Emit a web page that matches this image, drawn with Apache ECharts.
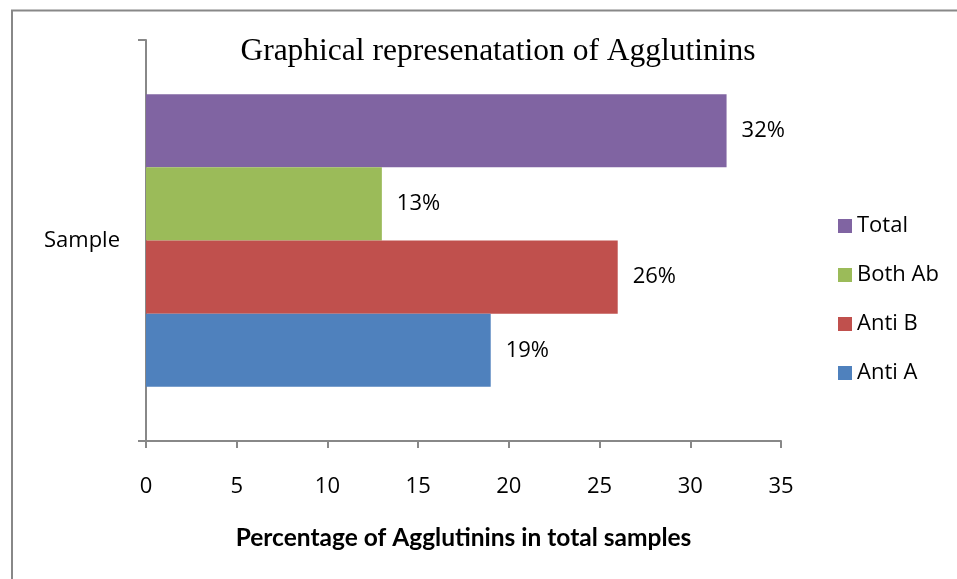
<!DOCTYPE html>
<html><head><meta charset="utf-8">
<script src="https://cdn.jsdelivr.net/npm/echarts@6/dist/echarts.min.js"></script>
<style>html,body{margin:0;padding:0;background:#fff}#c{width:957px;height:579px}</style>
</head><body><div id="c"></div>
<script>
const categories = ['Sample'];
const seriesNames = ['Total', 'Both Ab', 'Anti B', 'Anti A'];
const total = [32];
const bothAb = [13];
const antiB = [26];
const antiA = [19];
const colors = ['#8064A2', '#9BBB59', '#C0504D', '#4F81BD'];
const values = [total, bothAb, antiB, antiA];
const xTicks = { min: 0, max: 35, interval: 5 };

const chart = echarts.init(document.getElementById('c'));
const sans = '"Open Sans", sans-serif';
chart.setOption({
  animation: false,
  title: {
    text: 'Graphical represenatation of Agglutinins',
    left: 493, top: 31, textAlign: 'center',
    textStyle: { fontFamily: '"Liberation Serif", serif', fontWeight: 'normal', fontSize: 31.5, color: '#000' }
  },
  graphic: [
    { type: 'line', shape: { x1: 11, y1: 10.5, x2: 957, y2: 10.5 }, style: { stroke: '#888', lineWidth: 2 } },
    { type: 'line', shape: { x1: 12, y1: 10, x2: 12, y2: 579 }, style: { stroke: '#888', lineWidth: 2 } }
  ],
  legend: {
    orient: 'vertical', left: 833, top: 210,
    data: ['Total', 'Both Ab', 'Anti B', 'Anti A'],
    itemWidth: 14, itemHeight: 14, itemGap: 27,
    icon: 'rect',
    textStyle: { fontFamily: sans, fontSize: 22, color: '#000' }
  },
  grid: { left: 146, right: 176, top: 40, bottom: 138 },
  xAxis: {
    type: 'value', min: xTicks.min, max: xTicks.max, interval: xTicks.interval,
    splitLine: { show: false },
    axisLine: { show: true, lineStyle: { color: '#888', width: 2 } },
    axisTick: { show: true, length: 7, lineStyle: { color: '#888', width: 2 } },
    axisLabel: { fontFamily: sans, fontSize: 22, color: '#000', margin: 35 },
    name: 'Percentage of Agglutinins in total samples',
    nameLocation: 'middle', nameGap: 85,
    nameTextStyle: { fontFamily: 'Lato, sans-serif', fontWeight: 'bold', fontSize: 24.5, color: '#000' }
  },
  yAxis: {
    type: 'category', data: categories,
    axisLine: { show: true, lineStyle: { color: '#888', width: 2 } },
    axisTick: { show: true, length: 8, lineStyle: { color: '#888', width: 2 } },
    axisLabel: { fontFamily: sans, fontSize: 22, color: '#000', margin: 26 }
  },
  series: seriesNames.map((n, i) => ({
    name: n, type: 'bar', data: values[i],
    barGap: '0%', barCategoryGap: '27%',
    itemStyle: { color: colors[i] },
    label: { show: true, position: 'right', distance: 15, formatter: '{c}%', fontFamily: sans, fontSize: 22, color: '#000' }
  }))
});
</script></body></html>
